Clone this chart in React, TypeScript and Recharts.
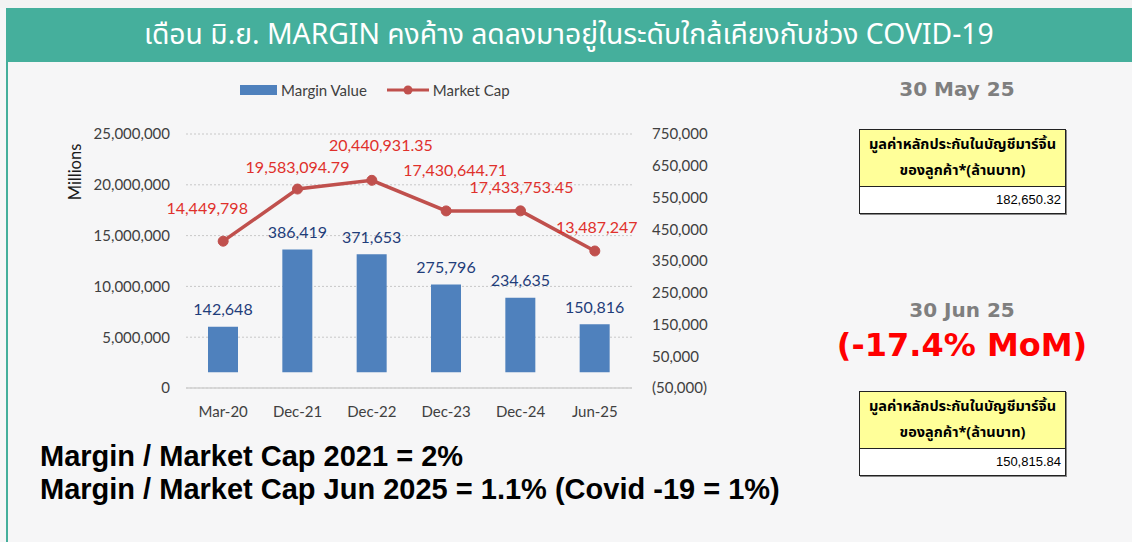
import React from "react";
import {
  ComposedChart,
  Bar,
  Line,
  XAxis,
  YAxis,
  CartesianGrid,
  LabelList,
} from "recharts";

// ---- data ----
const categories = ["Mar-20", "Dec-21", "Dec-22", "Dec-23", "Dec-24", "Jun-25"];
const marginValues = [142648, 386419, 371653, 275796, 234635, 150816];
const marketCapValues = [14449798, 19583094.79, 20440931.35, 17430644.71, 17433753.45, 13487247];
const leftTicks = [0, 5000000, 10000000, 15000000, 20000000, 25000000];
const rightTicks = [-50000, 50000, 150000, 250000, 350000, 450000, 550000, 650000, 750000];

const titleText = "เดือน มิ.ย. MARGIN คงค้าง ลดลงมาอยู่ในระดับใกล้เคียงกับช่วง COVID-19";
const tableHeader1 = "มูลค่าหลักประกันในบัญชีมาร์จิ้น";
const tableHeader2 = "ของลูกค้า*(ล้านบาท)";
const mayLabel = "30 May 25";
const mayValue = "182,650.32";
const junLabel = "30 Jun 25";
const junChange = "(-17.4% MoM)";
const junValue = "150,815.84";
const noteLines = [
  "Margin / Market Cap 2021 = 2%",
  "Margin / Market Cap Jun 2025 = 1.1% (Covid -19 = 1%)",
];

// label offsets (styling, not data) for market cap labels: [dx, dy]
const capLabelOffsets: [number, number][] = [
  [-16, -34],
  [0, -23],
  [9, -36],
  [9, -41],
  [1, -24],
  [2, -24],
];

const chartData = categories.map((c, i) => ({
  cat: c,
  margin: marginValues[i],
  cap: marketCapValues[i],
}));

const fmtInt = new Intl.NumberFormat("en-US", { maximumFractionDigits: 0 });
const fmtCap = new Intl.NumberFormat("en-US", { maximumFractionDigits: 2 });
const fmtRight = (v: number) => (v < 0 ? `(${fmtInt.format(-v)})` : fmtInt.format(v));

const TEAL = "#45AF9C";
const BAR = "#4F81BD";
const LINE = "#C0504D";
const CHART_FONT = "Lato, 'Open Sans', sans-serif";

const renderCapLabel = (props: any) => {
  const { x, y, value, index } = props;
  let idx = typeof index === "number" ? index : marketCapValues.indexOf(Number(value));
  if (idx < 0) idx = 0;
  const [dx, dy] = capLabelOffsets[idx] || [0, -20];
  return (
    <text
      x={Number(x) + dx}
      y={Number(y) + dy}
      textAnchor="middle"
      dominantBaseline="central"
      fill="#E0302B"
      fontSize={16}
      fontFamily={CHART_FONT}
    >
      {fmtCap.format(Number(value))}
    </text>
  );
};

const renderMarginLabel = (props: any) => {
  const { x, y, width, value } = props;
  return (
    <text
      x={Number(x) + Number(width) / 2}
      y={Number(y) - 18}
      textAnchor="middle"
      dominantBaseline="central"
      fill="#1F3D7A"
      fontSize={16}
      fontFamily={CHART_FONT}
    >
      {fmtInt.format(Number(value))}
    </text>
  );
};

const Table = ({ top, value }: { top: number; value: string }) => (
  <div
    style={{
      position: "absolute",
      left: 859,
      top,
      width: 205,
      border: "1px solid #222",
      boxShadow: "1px 1px 0 #888",
      fontFamily: "Tahoma, 'Noto Sans Thai', 'DejaVu Sans', sans-serif",
      fontSize: 14.5,
      color: "#000",
    }}
  >
    <div
      style={{
        background: "#FFFF99",
        height: 57,
        borderBottom: "1px solid #222",
        textAlign: "center",
        fontWeight: "bold",
        lineHeight: "26px",
        paddingTop: 2,
        boxSizing: "border-box",
        whiteSpace: "nowrap",
      }}
    >
      <div>{tableHeader1}</div>
      <div>{tableHeader2}</div>
    </div>
    <div
      style={{
        background: "#fff",
        height: 26,
        lineHeight: "26px",
        textAlign: "right",
        paddingRight: 4,
        fontFamily: "'Liberation Sans', Arial, sans-serif",
        fontSize: 13,
      }}
    >
      {value}
    </div>
  </div>
);

export default function App() {
  return (
    <div
      style={{
        position: "absolute",
        left: 0,
        top: 0,
        width: 1132,
        height: 542,
        overflow: "hidden",
        background: "#F6F6F7",
      }}
    >
      {/* header */}
      <div style={{ position: "absolute", left: 0, top: 0, width: 1132, height: 8, background: "#F3F3F3" }} />
      <div
        style={{
          position: "absolute",
          left: 6,
          top: 8,
          width: 1126,
          height: 54,
          background: TEAL,
          color: "#fff",
          display: "flex",
          alignItems: "center",
          justifyContent: "center",
          fontFamily: "'Liberation Sans Narrow', 'Noto Sans Thai', 'DejaVu Sans Condensed', sans-serif",
          fontSize: 29,
          whiteSpace: "nowrap",
        }}
      >
        <span style={{ display: "inline-block", marginLeft: 0, transform: "scaleX(0.975)" }}>{titleText}</span>
      </div>
      <div style={{ position: "absolute", left: 6, top: 62, width: 2, height: 480, background: TEAL }} />

      {/* legend */}
      <div
        style={{
          position: "absolute",
          left: 240,
          top: 80,
          height: 20,
          display: "flex",
          alignItems: "center",
          fontFamily: CHART_FONT,
          fontSize: 15,
          color: "#404040",
        }}
      >
        <div style={{ width: 37, height: 10, background: BAR, marginRight: 4 }} />
        <span>Margin Value</span>
        <svg width={44} height={12} style={{ marginLeft: 20, marginRight: 2 }}>
          <line x1={0} y1={6} x2={42} y2={6} stroke={LINE} strokeWidth={3} />
          <circle cx={21} cy={6} r={4.5} fill={LINE} />
        </svg>
        <span>Market Cap</span>
      </div>

      {/* Millions */}
      <div
        style={{
          position: "absolute",
          left: 75,
          top: 172,
          transform: "translate(-50%, -50%) rotate(-90deg)",
          fontFamily: CHART_FONT,
          fontSize: 16.5,
          color: "#1a1a1a",
          whiteSpace: "nowrap",
        }}
      >
        Millions
      </div>

      {/* chart */}
      <div style={{ position: "absolute", left: 0, top: 0 }}>
        <ComposedChart
          width={740}
          height={440}
          data={chartData}
          margin={{ top: 134, right: 40, left: 86, bottom: 22 }}
        >
          <CartesianGrid
            yAxisId="left"
            vertical={false}
            stroke="#C8C8C8"
            strokeDasharray="2 2"
          />
          <XAxis
            dataKey="cat"
            axisLine={{ stroke: "#D0D0D0", strokeWidth: 1.5 }}
            tickLine={false}
            tickMargin={12}
            tick={{ fontSize: 15, fill: "#404040", fontFamily: CHART_FONT }}
            height={30}
            interval={0}
          />
          <YAxis
            yAxisId="left"
            orientation="left"
            width={100}
            domain={[0, 25000000]}
            ticks={leftTicks}
            allowDataOverflow
            axisLine={false}
            tickLine={false}
            tickMargin={10}
            tickFormatter={(v: number) => fmtInt.format(v)}
            tick={{ fontSize: 15, fill: "#404040", fontFamily: CHART_FONT }}
          />
          <YAxis
            yAxisId="right"
            orientation="right"
            width={68}
            domain={[-50000, 750000]}
            ticks={rightTicks}
            allowDataOverflow
            axisLine={false}
            tickLine={false}
            tickMargin={14}
            tickFormatter={fmtRight}
            tick={{ fontSize: 15, fill: "#404040", fontFamily: CHART_FONT, textAnchor: "start" }}
          />
          <Bar
            yAxisId="right"
            dataKey="margin"
            fill={BAR}
            barSize={30}
            isAnimationActive={false}
          >
            <LabelList dataKey="margin" content={renderMarginLabel} />
          </Bar>
          <Line
            yAxisId="left"
            dataKey="cap"
            stroke={LINE}
            strokeWidth={3.5}
            dot={{ r: 5, fill: LINE, stroke: LINE, strokeWidth: 1 }}
            activeDot={false}
            isAnimationActive={false}
          >
            <LabelList dataKey="cap" content={renderCapLabel} />
          </Line>
        </ComposedChart>
      </div>

      {/* right panel */}
      <div
        style={{
          position: "absolute",
          left: 957,
          top: 89,
          transform: "translate(-50%, -50%)",
          fontFamily: "'DejaVu Sans', Verdana, sans-serif",
          fontWeight: "bold",
          fontSize: 20,
          color: "#7F7F7F",
          whiteSpace: "nowrap",
        }}
      >
        {mayLabel}
      </div>
      <Table top={129} value={mayValue} />

      <div
        style={{
          position: "absolute",
          left: 962,
          top: 310,
          transform: "translate(-50%, -50%)",
          fontFamily: "'DejaVu Sans', Verdana, sans-serif",
          fontWeight: "bold",
          fontSize: 20,
          color: "#7F7F7F",
          whiteSpace: "nowrap",
        }}
      >
        {junLabel}
      </div>
      <div
        style={{
          position: "absolute",
          left: 962,
          top: 345,
          transform: "translate(-50%, -50%)",
          fontFamily: "'DejaVu Sans', Verdana, sans-serif",
          fontWeight: "bold",
          fontSize: 32,
          color: "#FF0000",
          whiteSpace: "nowrap",
        }}
      >
        {junChange}
      </div>
      <Table top={391} value={junValue} />

      {/* notes */}
      <div
        style={{
          position: "absolute",
          left: 40,
          top: 440,
          fontFamily: "'Liberation Sans', Arial, sans-serif",
          fontWeight: "bold",
          fontSize: 29,
          lineHeight: "33px",
          color: "#000",
          whiteSpace: "nowrap",
        }}
      >
        {noteLines.map((l) => (
          <div key={l}>{l}</div>
        ))}
      </div>
    </div>
  );
}
